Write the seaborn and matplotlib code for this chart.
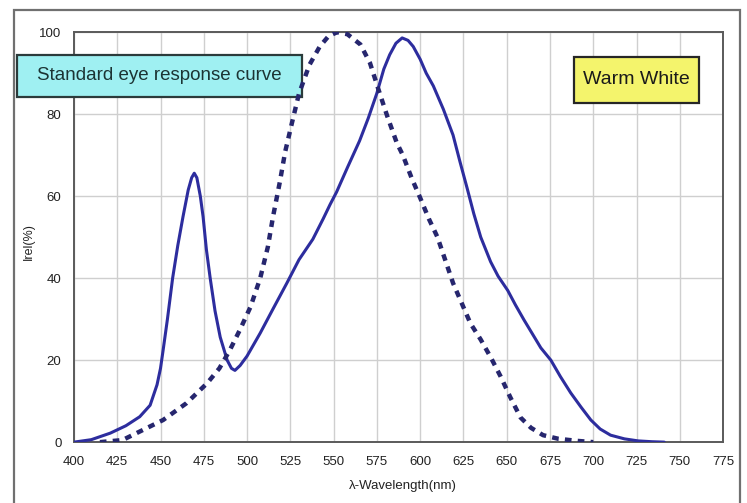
import matplotlib.pyplot as plt
import matplotlib.patches as mpatches
import pandas as pd
import seaborn as sns

# Warm white LED spectrum (solid line)
led_nm = [400, 410, 421, 430, 438, 444, 448, 450, 451.5, 454, 457, 460, 463, 466, 468, 469.5, 471, 473,
          474.6, 476.5, 478.7, 481.5, 484.5, 488.5, 491, 493, 496, 500, 507.6, 515, 523, 530, 538, 544,
          548, 551.7, 558, 565, 570, 574.9, 579, 582.4, 586, 589.6, 593, 596, 600, 603.5, 607.6, 613.4,
          619, 623, 627.1, 631, 635, 640.7, 645, 650.6, 655, 660, 665, 669.7, 675.5, 681, 687, 693,
          698.6, 704, 710, 718, 726, 734, 741]
led_val = [0, 0.6, 2.2, 4, 6.2, 9, 14, 18, 22.4, 30, 40, 48, 55, 61.5, 64.5, 65.6, 64.5, 60,
           55, 47, 40, 32, 25.6, 20, 18, 17.5, 18.7, 21, 26.6, 32.5, 38.8, 44.5, 49.5, 54.5,
           58, 61, 67, 73.5, 79, 85, 91, 94.5, 97.3, 98.6, 98, 96.5, 93.4, 90, 86.9, 81.2,
           74.9, 68.4, 62, 55.7, 50, 44, 40.5, 37, 33.5, 29.8, 26.3, 23, 20, 16, 12, 8.5,
           5.4, 3.2, 1.7, 0.8, 0.3, 0.1, 0]

# Standard eye response curve (dotted line)
eye_nm = [415, 428, 440, 451.5, 465, 477, 484, 490, 496, 502, 507.6, 512, 515, 519, 522, 526, 530,
          536, 542, 547, 552, 558, 565.5, 571, 576.7, 581, 586.5, 590, 595, 600, 605, 610, 619, 629,
          635, 641, 646.5, 652, 658, 664, 671, 680, 691, 700]
eye_val = [0, 0.5, 3, 5.4, 9.5, 14.4, 18, 22.4, 27.5, 33, 40, 47.6, 55, 63.6, 70.8, 78, 85,
           92, 96.5, 99, 100, 99.5, 97, 92.5, 85, 79.5, 73, 70, 64.5, 59.6, 54.5, 50, 38.8, 29,
           25, 20.5, 16, 11, 6, 3.5, 1.7, 0.8, 0.3, 0]

x_ticks = list(range(400, 776, 25))
y_ticks = [0, 20, 40, 60, 80, 100]

led = pd.DataFrame({"nm": led_nm, "val": led_val})
eye = pd.DataFrame({"nm": eye_nm, "val": eye_val})

sns.set_theme(style="whitegrid")
plt.rcParams["font.family"] = ["Liberation Sans", "DejaVu Sans"]

fig = plt.figure(figsize=(7.47, 5.03), dpi=100)
ax = fig.add_axes([0.099, 0.121, 0.869, 0.815])

sns.lineplot(data=led, x="nm", y="val", ax=ax, color="#2d2d9e", linewidth=2.2, sort=False, zorder=4)
sns.lineplot(data=eye, x="nm", y="val", ax=ax, color="#26266e", linewidth=3.2,
             linestyle=(0, (1.5, 1.4)), sort=False, zorder=4)

ax.set_xlim(400, 775)
ax.set_ylim(0, 100)
ax.set_xticks(x_ticks)
ax.set_yticks(y_ticks)
ax.tick_params(axis="x", labelsize=9.5, colors="#222222", length=0, pad=10)
ax.tick_params(axis="y", labelsize=9.5, colors="#222222", length=0, pad=9)
ax.grid(True, color="#cfcfcf", linewidth=1.0)
for s in ax.spines.values():
    s.set_color("#5a5a5a")
    s.set_linewidth(1.4)

ax.set_xlabel("λ-Wavelength(nm)", fontsize=9.5, color="#222222")
ax.set_ylabel("Irel(%)", fontsize=9, color="#222222")
ax.xaxis.set_label_coords(0.507, -0.093)
ax.yaxis.set_label_coords(-0.060, 0.49)

# annotation boxes (under the curves, over the grid)
ax.add_patch(mpatches.Rectangle((0.0228, 0.807), 0.3815, 0.0835, transform=fig.transFigure,
                                facecolor="#9ff0f2", edgecolor="#2b3b3b", linewidth=1.6,
                                clip_on=False, zorder=3))
ax.text(0.2135, 0.849, "Standard eye response curve", transform=fig.transFigure, ha="center",
        va="center", fontsize=13.5, color="#1c3434", zorder=5)
ax.add_patch(mpatches.Rectangle((0.768, 0.795), 0.1673, 0.0915, transform=fig.transFigure,
                                facecolor="#f4f46c", edgecolor="#262626", linewidth=1.6,
                                clip_on=False, zorder=3))
ax.text(0.852, 0.841, "Warm White", transform=fig.transFigure, ha="center", va="center",
        fontsize=14, color="#1a1a1a", zorder=5)

# outer frame
fig.patches.append(mpatches.Rectangle((0.019, -0.01), 0.972, 0.99, transform=fig.transFigure,
                                      fill=False, edgecolor="#707070", linewidth=1.6))

fig.savefig("out.png", dpi=100)
